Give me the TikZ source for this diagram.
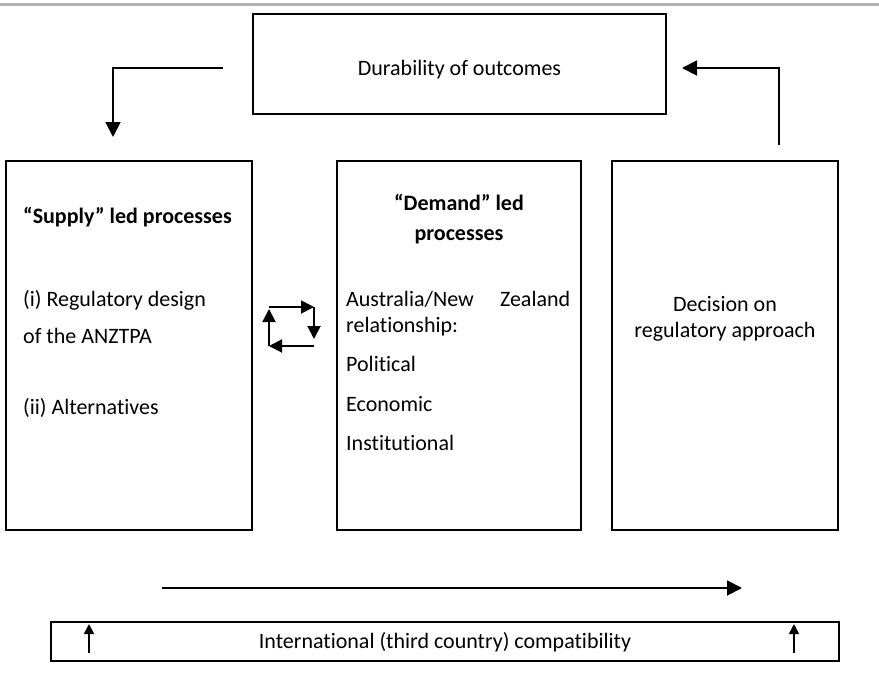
\documentclass[tikz,border=0pt]{standalone}
\usepackage{fontspec}
\setmainfont{Carlito}[Ligatures=NoCommon]
\usetikzlibrary{arrows.meta}
\begin{document}
\begin{tikzpicture}[x=1pt,y=-1pt,
  frame/.style={draw, line width=1.9pt, inner sep=0pt},
  conn/.style={line width=1.9pt, -{Triangle[length=15pt,width=15pt]}},
  swirl/.style={line width=1.9pt, -{Triangle[length=13pt,width=13pt]}},
  txt/.style={inner sep=0pt, font=\fontsize{22}{26}\selectfont},
  head/.style={txt, font=\fontsize{22}{26}\selectfont\bfseries}]
\useasboundingbox (0,0) rectangle (879,694);

% rule along the top
\draw[black!30, line width=3pt] (0,4) -- (879,4);

% boxes
\node[frame, minimum width=413pt, minimum height=100pt] (dur) at (459.5,64) {};
\node[frame, minimum width=246pt, minimum height=369pt] (supply) at (129,345.5) {};
\node[frame, minimum width=244pt, minimum height=369pt] (demand) at (459,345.5) {};
\node[frame, minimum width=226pt, minimum height=369pt] (decision) at (725,345.5) {};
\node[frame, minimum width=788pt, minimum height=39pt] (intl) at (445,641.5) {};

% texts
\node[txt, anchor=base] (durT) at (459.5,75) {Durability of outcomes};

\node[head, anchor=base west] (supT) at (23,223) {“Supply” led processes};
\node[txt, anchor=base west] (sup1) at (23,306) {(i) Regulatory design};
\node[txt, anchor=base west] (sup2) at (23,343) {of the ANZTPA};
\node[txt, anchor=base west] (sup3) at (23,414) {(ii) Alternatives};

\node[head, anchor=base] (demT1) at (459,210) {“Demand” led};
\node[head, anchor=base] (demT2) at (459,240) {processes};
\node[txt, anchor=base west] (dem1) at (346,306) {\hbox to 224pt{Australia/New\hfill Zealand}};
\node[txt, anchor=base west] (dem2) at (346,332) {relationship:};
\node[txt, anchor=base west] (dem3) at (346,371) {Political};
\node[txt, anchor=base west] (dem4) at (346,411) {Economic};
\node[txt, anchor=base west] (dem5) at (346,450) {Institutional};

\node[txt, anchor=base] (dec1) at (725,311) {Decision on};
\node[txt, anchor=base] (dec2) at (725,337) {regulatory approach};

\node[txt, anchor=base] (intlT) at (445,648) {International (third country) compatibility};

% loop from the outcomes box back to the start
\coordinate (dlS) at (223,68);
\coordinate (dlE) at (113,137);
\draw[conn] (dlS) -| (dlE);
\coordinate (drS) at (779,145);
\coordinate (drE) at (682,68);
\draw[conn] (drS) |- (drE);

% progression arrow
\coordinate (hS) at (162,588);
\coordinate (hE) at (742,588);
\draw[conn] (hS) -- (hE);

% upward arrows inside the bottom box
\coordinate (u1S) at (89,653);
\coordinate (u1E) at (89,624);
\coordinate (u2S) at (794,653);
\coordinate (u2E) at (794,624);
\draw[conn, -{Triangle[length=10pt,width=10pt]}] (u1S) -- (u1E);
\draw[conn, -{Triangle[length=10pt,width=10pt]}] (u2S) -- (u2E);

% two-way cycle between supply and demand
\coordinate (c1) at (269,307);
\coordinate (c2) at (314,307);
\coordinate (c3) at (314,346);
\coordinate (c4) at (269,346);
\draw[swirl] (c1) -- (c2);
\draw[swirl] (c2) -- ([yshift=7pt]c3);
\draw[swirl] (c3) -- (c4);
\draw[swirl] (c4) -- ([yshift=-2pt]c1);
\end{tikzpicture}
\end{document}
